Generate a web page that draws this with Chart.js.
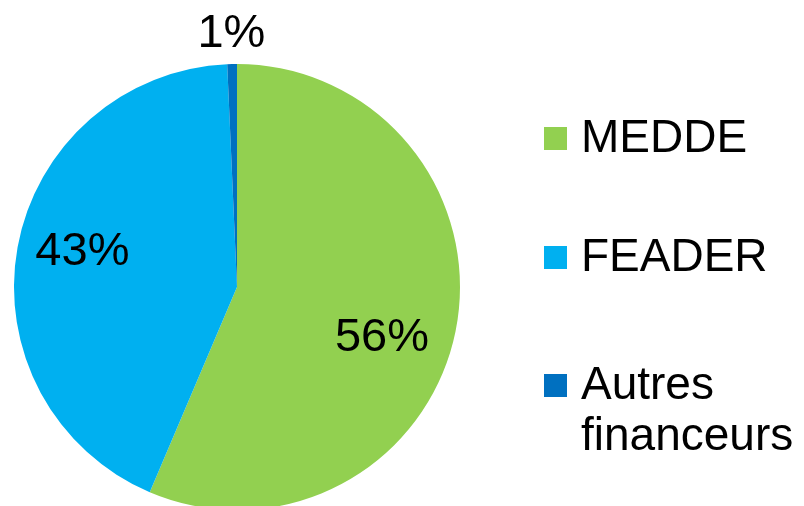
<!DOCTYPE html>
<html>
<head>
<meta charset="utf-8">
<script src="https://cdn.jsdelivr.net/npm/chart.js@4.4.0/dist/chart.umd.min.js"></script>
<style>
    html, body { margin: 0; padding: 0; background: #fff; overflow: hidden; }
    #wrap { position: relative; width: 804px; height: 512px; }
</style>
</head>
<body>
<div id="wrap"><canvas id="financeChart"></canvas></div>
<script>
// Données du graphique
const categories = ['MEDDE', 'FEADER', 'Autres financeurs'];
const legendLines = [['MEDDE'], ['FEADER'], ['Autres', 'financeurs']];
const valeurs = [56.4, 42.9, 0.7];
const couleurs = ['#92D050', '#00B0F0', '#0070C0'];

// Étiquettes de pourcentage sur les parts
const pourcentagePlugin = {
    id: 'pourcentage',
    afterDatasetsDraw(chart, args, opts) {
        const ctx = chart.ctx;
        const meta = chart.getDatasetMeta(0);
        const total = valeurs.reduce((a, b) => a + b, 0);
        const decalages = opts.decalages || [];
        ctx.save();
        ctx.font = '47px "Liberation Sans", Arial, sans-serif';
        ctx.fillStyle = '#000';
        ctx.textAlign = 'center';
        ctx.textBaseline = 'middle';
        meta.data.forEach((arc, i) => {
            const pct = Math.round(valeurs[i] / total * 100);
            const angle = (arc.startAngle + arc.endAngle) / 2;
            // petites parts : étiquette à l'extérieur
            const r = pct < 5 ? arc.outerRadius + 32 : arc.outerRadius * 0.7;
            const d = decalages[i] || [0, 0];
            const x = arc.x + Math.cos(angle) * r + d[0];
            const y = arc.y + Math.sin(angle) * r + d[1];
            ctx.fillText(pct + '%', x, y);
        });
        ctx.restore();
    }
};

// Légende dessinée à droite
const legendePlugin = {
    id: 'legende',
    afterDraw(chart) {
        const ctx = chart.ctx;
        ctx.save();
        ctx.font = '46px "Liberation Sans", Arial, sans-serif';
        ctx.textBaseline = 'middle';
        ctx.textAlign = 'left';
        const x0 = 544;
        let y = 139;
        categories.forEach((cat, i) => {
            ctx.fillStyle = couleurs[i];
            ctx.fillRect(x0, y - 12, 23, 23);
            ctx.fillStyle = '#000';
            legendLines[i].forEach((line, j) => {
                ctx.fillText(line, x0 + 37, y + j * 51);
            });
            y += 119 + (i === 1 ? 9 : 0);
        });
        ctx.restore();
    }
};

new Chart(document.getElementById('financeChart'), {
    type: 'pie',
    data: {
        labels: categories,
        datasets: [{
            data: valeurs,
            backgroundColor: couleurs,
            borderWidth: 0
        }]
    },
    options: {
        responsive: true,
        maintainAspectRatio: false,
        animation: false,
        layout: {
            padding: { left: 14, right: 344, top: 64, bottom: 2 }
        },
        plugins: {
            legend: { display: false },
            tooltip: { enabled: false },
            pourcentage: { decalages: [[-8, 20], [-1, -7], [0, 2]] }
        }
    },
    plugins: [pourcentagePlugin, legendePlugin]
});
</script>
</body>
</html>
